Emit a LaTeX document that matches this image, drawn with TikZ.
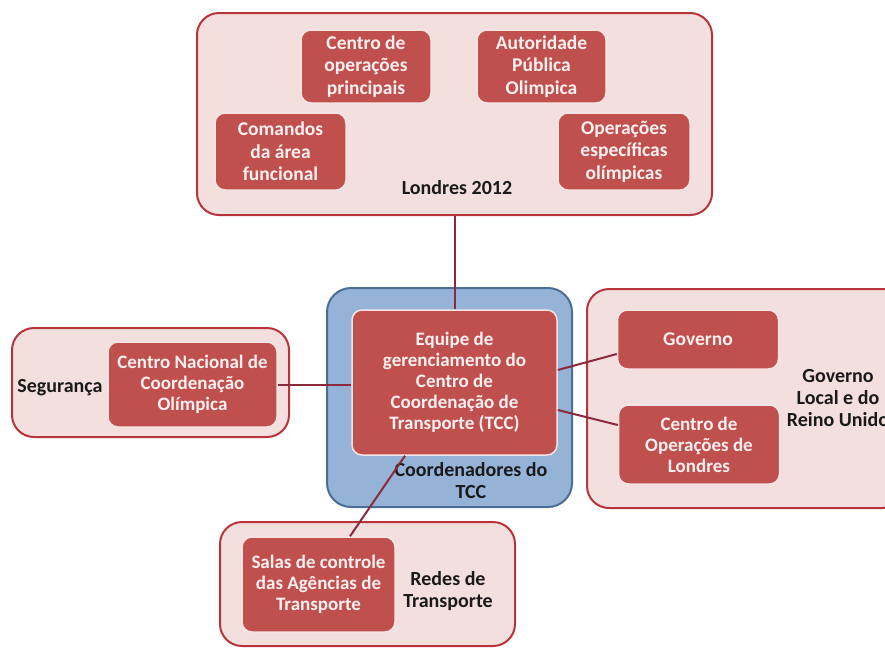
\documentclass[tikz,border=0pt]{standalone}
\usepackage{fontspec}
\setmainfont{Carlito}
\usetikzlibrary{calc}
\definecolor{pinkfill}{HTML}{F4DFDF}
\definecolor{pinkborder}{HTML}{B8343C}
\definecolor{redfill}{HTML}{C0504D}
\definecolor{innerborder}{HTML}{F6E4E4}
\definecolor{bluefill}{HTML}{95B3D7}
\definecolor{blueborder}{HTML}{4A6E96}
\definecolor{linkcol}{HTML}{8C2A3C}
\definecolor{innertext}{HTML}{FDF0F0}
\definecolor{labeltext}{HTML}{1A1A1A}
\begin{document}
\begin{tikzpicture}[x=1pt,y=-1pt,
  outerbox/.style={draw=pinkborder,fill=pinkfill,line width=2pt,rounded corners=22pt,minimum width=#1},
  innerbox/.style={draw=innerborder,fill=redfill,line width=1.5pt,rounded corners=10pt,text=innertext,align=center,inner sep=0pt,
     font=\fontsize{19.5}{22.5}\selectfont\bfseries},
  tightbox/.style={innerbox,font=\fontsize{19}{21}\selectfont\bfseries},
  grouplabel/.style={text=labeltext,align=center,inner sep=0pt,font=\fontsize{20}{22}\selectfont\bfseries},
  link/.style={draw=linkcol,line width=2pt}]
\useasboundingbox (0,0) rectangle (885,649);
\clip (0,0) rectangle (885,649);
\fill[white] (0,0) rectangle (885,649);
% outer groups
\node[outerbox=515pt,minimum height=202pt] (L) at (454.5,114) {};
\node[outerbox=277pt,minimum height=109pt] (S) at (150.5,382.5) {};
\node[outerbox=318pt,minimum height=219pt] (R) at (746,398.5) {};
\node[outerbox=295pt,minimum height=124pt] (N) at (367.5,584) {};
\node[draw=blueborder,fill=bluefill,line width=2pt,rounded corners=24pt,minimum width=245pt,minimum height=219pt] (B) at (449.5,397.5) {};
% group labels
\node[grouplabel] (Llab) at (457,188) {Londres 2012};
\node[grouplabel] (Slab) at (60,388) {Segurança};
\node[grouplabel] (Rlab) at (838,398) {Governo\\Local e do\\Reino Unido};
\node[grouplabel] (Nlab) at (448,591) {Redes de\\Transporte};
\node[grouplabel] (Blab) at (471,481) {Coordenadores do\\TCC};
% inner boxes
\node[innerbox,minimum width=130pt,minimum height=73pt] (cop) at (366,66.5) {Centro de\\operações\\principais};
\node[innerbox,minimum width=129pt,minimum height=73pt] (apo) at (541.5,66.5) {Autoridade\\Pública\\Olimpica};
\node[innerbox,minimum width=131pt,minimum height=77pt] (caf) at (280.5,151.5) {Comandos\\da área\\funcional};
\node[innerbox,minimum width=132pt,minimum height=77pt] (oeo) at (624,151.5) {Operações\\específicas\\olímpicas};
\node[tightbox,minimum width=205pt,minimum height=145pt] (tcc) at (454.5,382.5) {Equipe de\\gerenciamento do\\Centro de\\Coordenação de\\Transporte (TCC)};
\node[innerbox,minimum width=161pt,minimum height=59pt] (gov) at (698,339.5) {Governo};
\node[tightbox,minimum width=161pt,minimum height=79pt] (col) at (699,444.5) {Centro de\\Operações de\\Londres};
\node[tightbox,minimum width=169pt,minimum height=85pt] (cnc) at (192.5,384.5) {Centro Nacional de\\Coordenação\\Olímpica};
\node[tightbox,minimum width=153pt,minimum height=95pt] (salas) at (318.5,584.5) {Salas de controle\\das Agências de\\Transporte};
% connectors
\draw[link] (L.south) -- (L.south |- tcc.north);
\draw[link] (cnc.east) -- (cnc.east -| tcc.west);
\draw[link] ($(tcc.east)+(0,-12.5)$) -- ($(gov.west)+(0,14.5)$);
\draw[link] ($(tcc.east)+(0,27.5)$) -- ($(col.west)+(0,-19.5)$);
\draw[link] ($(tcc.south)+(-49.5,0)$) -- ($(salas.north)+(31.5,0)$);
\end{tikzpicture}
\end{document}
